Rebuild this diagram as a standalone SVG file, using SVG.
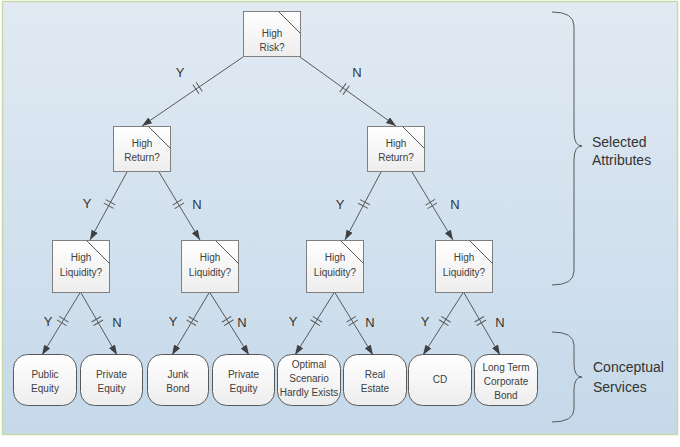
<svg xmlns="http://www.w3.org/2000/svg" width="680" height="447" viewBox="0 0 680 447">
<defs>
<linearGradient id="bg" x1="0" y1="0" x2="0" y2="1">
<stop offset="0" stop-color="#e1eaf3"/>
<stop offset="1" stop-color="#c5d9ea"/>
</linearGradient>
<linearGradient id="gn" x1="0" y1="0" x2="0" y2="1">
<stop offset="0" stop-color="#ffffff"/>
<stop offset="1" stop-color="#ededed"/>
</linearGradient>
<marker id="arr" markerUnits="userSpaceOnUse" markerWidth="11" markerHeight="8" refX="10" refY="3.5" orient="auto">
<path d="M0,0 L10,3.5 L0,7 z" fill="#404040"/>
</marker>
<g id="h"><line x1="-2" y1="-5.5" x2="-2" y2="5.5"/><line x1="2" y1="-5.5" x2="2" y2="5.5"/></g>
</defs>
<style>
.dn rect{fill:url(#gn);stroke:#7f7f7f;stroke-width:1}
.dn line{stroke:#595959;stroke-width:1}
.lf rect{fill:url(#gn);stroke:#595959;stroke-width:1}
.t{font-family:"Liberation Sans",Arial,sans-serif;font-size:10px;fill:#404040;text-anchor:middle}
.lb{font-family:"Liberation Sans",Arial,sans-serif;font-size:13px;fill:#333333;text-anchor:middle}
.sd{font-family:"Liberation Sans",Arial,sans-serif;font-size:14px;fill:#333333}
.conn line{stroke:#595959;stroke-width:1;marker-end:url(#arr)}
.conn use{stroke:#595959;stroke-width:1}
.br{fill:none;stroke:#595959;stroke-width:1}
</style>
<rect x="2.5" y="1.5" width="675" height="433" fill="url(#bg)" stroke="#c6d9a4" stroke-width="1.5"/>

<g id="connectors" class="conn">
<line x1="243" y1="57" x2="142" y2="126"/>
<line x1="300" y1="57" x2="396" y2="126"/>
<line x1="127" y1="172" x2="90" y2="240"/>
<line x1="159" y1="172" x2="200" y2="240"/>
<line x1="381" y1="172" x2="345" y2="240"/>
<line x1="412" y1="172" x2="453" y2="240"/>
<line x1="80.5" y1="292" x2="42" y2="355"/>
<line x1="80.5" y1="292" x2="117" y2="355"/>
<line x1="209.5" y1="292" x2="172" y2="355"/>
<line x1="209.5" y1="292" x2="249" y2="355"/>
<line x1="334.5" y1="292" x2="295" y2="355"/>
<line x1="334.5" y1="292" x2="373" y2="355"/>
<line x1="463.5" y1="292" x2="423" y2="355"/>
<line x1="463.5" y1="292" x2="500" y2="355"/>
<use href="#h" transform="translate(197.6,88) rotate(145.7)"/>
<use href="#h" transform="translate(344.5,89) rotate(35.7)"/>
<use href="#h" transform="translate(109.6,204) rotate(118.6)"/>
<use href="#h" transform="translate(178.3,204) rotate(58.9)"/>
<use href="#h" transform="translate(364,204) rotate(117.9)"/>
<use href="#h" transform="translate(431.3,204) rotate(58.9)"/>
<use href="#h" transform="translate(62.8,321) rotate(121.4)"/>
<use href="#h" transform="translate(97.3,321) rotate(59.9)"/>
<use href="#h" transform="translate(192.3,321) rotate(120.8)"/>
<use href="#h" transform="translate(227.7,321) rotate(57.9)"/>
<use href="#h" transform="translate(316.3,321) rotate(122.1)"/>
<use href="#h" transform="translate(352.2,321) rotate(58.6)"/>
<use href="#h" transform="translate(444.9,321) rotate(122.7)"/>
<use href="#h" transform="translate(480.3,321) rotate(59.9)"/>
<text class="lb" x="180" y="77">Y</text>
<text class="lb" x="357" y="77">N</text>
<text class="lb" x="87" y="208">Y</text>
<text class="lb" x="197" y="209">N</text>
<text class="lb" x="340" y="209">Y</text>
<text class="lb" x="455" y="209">N</text>
<text class="lb" x="48" y="326">Y</text>
<text class="lb" x="117" y="327">N</text>
<text class="lb" x="173" y="326">Y</text>
<text class="lb" x="242" y="327">N</text>
<text class="lb" x="293" y="326">Y</text>
<text class="lb" x="370" y="327">N</text>
<text class="lb" x="425" y="326">Y</text>
<text class="lb" x="500" y="327">N</text>
</g>

<g id="risk" class="dn">
<rect x="243.5" y="11.5" width="57" height="45"/>
<line x1="278.5" y1="11.5" x2="300.5" y2="33.5"/>
<text class="t" x="272" y="37">High</text>
<text class="t" x="272" y="51">Risk?</text>
</g>
<g id="return-left" class="dn">
<rect x="113.5" y="126.5" width="57" height="45"/>
<line x1="148.5" y1="126.5" x2="170.5" y2="148.5"/>
<text class="t" x="142" y="147">High</text>
<text class="t" x="142" y="161">Return?</text>
</g>
<g id="return-right" class="dn">
<rect x="367.5" y="126.5" width="57" height="45"/>
<line x1="402.5" y1="126.5" x2="424.5" y2="148.5"/>
<text class="t" x="396" y="147">High</text>
<text class="t" x="396" y="161">Return?</text>
</g>
<g id="liq1" class="dn">
<rect x="52.5" y="240.5" width="57" height="52"/>
<line x1="86.5" y1="240.5" x2="109.5" y2="263.5"/>
<text class="t" x="81" y="261">High</text>
<text class="t" x="81" y="276">Liquidity?</text>
</g>
<g id="liq2" class="dn">
<rect x="181.5" y="240.5" width="57" height="52"/>
<line x1="215.5" y1="240.5" x2="238.5" y2="263.5"/>
<text class="t" x="210" y="261">High</text>
<text class="t" x="210" y="276">Liquidity?</text>
</g>
<g id="liq3" class="dn">
<rect x="306.5" y="240.5" width="57" height="52"/>
<line x1="340.5" y1="240.5" x2="363.5" y2="263.5"/>
<text class="t" x="335" y="261">High</text>
<text class="t" x="335" y="276">Liquidity?</text>
</g>
<g id="liq4" class="dn">
<rect x="435.5" y="240.5" width="57" height="52"/>
<line x1="469.5" y1="240.5" x2="492.5" y2="263.5"/>
<text class="t" x="464" y="261">High</text>
<text class="t" x="464" y="276">Liquidity?</text>
</g>

<g id="public-equity" class="lf">
<rect x="13.5" y="354.5" width="63" height="51" rx="14"/>
<text class="t" x="45" y="378">Public</text>
<text class="t" x="45" y="392">Equity</text>
</g>
<g id="private-equity-1" class="lf">
<rect x="80.5" y="354.5" width="62" height="51" rx="14"/>
<text class="t" x="111.5" y="378">Private</text>
<text class="t" x="111.5" y="392">Equity</text>
</g>
<g id="junk-bond" class="lf">
<rect x="147.5" y="354.5" width="61" height="51" rx="14"/>
<text class="t" x="178" y="378">Junk</text>
<text class="t" x="178" y="392">Bond</text>
</g>
<g id="private-equity-2" class="lf">
<rect x="212.5" y="354.5" width="62" height="51" rx="14"/>
<text class="t" x="243.5" y="378">Private</text>
<text class="t" x="243.5" y="392">Equity</text>
</g>
<g id="optimal" class="lf">
<rect x="277.5" y="354.5" width="63" height="51" rx="14"/>
<text class="t" x="309" y="368">Optimal</text>
<text class="t" x="309" y="382">Scenario</text>
<text class="t" x="309" y="396">Hardly Exists</text>
</g>
<g id="real-estate" class="lf">
<rect x="343.5" y="354.5" width="63" height="51" rx="14"/>
<text class="t" x="375" y="378">Real</text>
<text class="t" x="375" y="392">Estate</text>
</g>
<g id="cd" class="lf">
<rect x="408.5" y="354.5" width="63" height="51" rx="14"/>
<text class="t" x="440" y="383">CD</text>
</g>
<g id="long-term" class="lf">
<rect x="474.5" y="354.5" width="63" height="51" rx="14"/>
<text class="t" x="506" y="371">Long Term</text>
<text class="t" x="506" y="385">Corporate</text>
<text class="t" x="506" y="399">Bond</text>
</g>

<g id="selected-attributes">
<path class="br" d="M552,12 Q574,12 574,26 L574,132 Q574,146 582,146 Q574,146 574,160 L574,271 Q574,285 552,285"/>
<text class="sd" x="592" y="147">Selected</text>
<text class="sd" x="592" y="165">Attributes</text>
</g>
<g id="conceptual-services">
<path class="br" d="M552,332 Q574,332 574,345 L574,364 Q574,377 582,377 Q574,377 574,390 L574,409 Q574,422 552,422"/>
<text class="sd" x="593" y="372">Conceptual</text>
<text class="sd" x="593" y="392">Services</text>
</g>
</svg>
